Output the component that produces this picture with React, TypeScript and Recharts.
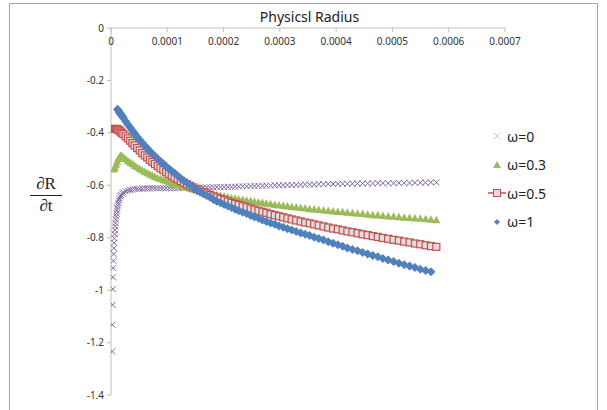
import React from 'react'
import { ScatterChart, Scatter, XAxis, YAxis } from 'recharts'

const xTicks = [0, 0.0001, 0.0002, 0.0003, 0.0004, 0.0005, 0.0006, 0.0007]
const yTicks = [0, -0.2, -0.4, -0.6, -0.8, -1, -1.2, -1.4]
const seriesNames = ['ω=0', 'ω=0.3', 'ω=0.5', 'ω=1']

// physical radius, shared by every curve after its first few points
const radiusGrid = [
  22e-6, 26e-6, 30e-6, 34e-6, 38e-6, 42e-6, 46.5e-6, 51e-6, 55.5e-6, 60e-6,
  64.5e-6, 69e-6, 73.5e-6, 78e-6, 83e-6, 88e-6, 93e-6, 98e-6, 103e-6, 108e-6,
  113e-6, 118.5e-6, 124e-6, 129.5e-6, 135e-6, 140.5e-6, 146e-6, 152e-6, 158e-6, 164e-6,
  170e-6, 176e-6, 182e-6, 188e-6, 194.5e-6, 201e-6, 207.5e-6, 214e-6, 220.5e-6, 227e-6,
  234e-6, 241e-6, 248e-6, 255e-6, 262e-6, 269e-6, 276e-6, 283.5e-6, 291e-6, 298.5e-6,
  306e-6, 313.5e-6, 321e-6, 329e-6, 337e-6, 345e-6, 353e-6, 361e-6, 369e-6, 377.5e-6,
  386e-6, 394.5e-6, 403e-6, 411.5e-6, 420e-6, 429e-6, 438e-6, 447e-6, 456e-6, 465e-6,
  474e-6, 483e-6, 492.5e-6, 502e-6, 511.5e-6, 521e-6, 530.5e-6, 540e-6, 549.5e-6, 559e-6,
  568.5e-6, 578e-6,
]

// ω=0
const w0HeadRadius = [
  2.0e-6, 2.4e-6, 2.8e-6, 3.2e-6, 3.6e-6, 4.0e-6, 4.4e-6, 4.8e-6, 5.2e-6, 5.6e-6,
  6.0e-6, 6.5e-6, 7.0e-6, 7.5e-6, 8.0e-6, 8.6e-6, 9.2e-6, 9.8e-6, 10.5e-6, 11.2e-6,
  12e-6, 13e-6, 14e-6, 15e-6, 16.5e-6, 18e-6, 20e-6,
]
const w0HeadValues = [
  -1.234, -1.132, -1.056, -0.996, -0.951, -0.916, -0.888, -0.862, -0.84, -0.82,
  -0.802, -0.786, -0.771, -0.757, -0.744, -0.731, -0.719, -0.708, -0.697, -0.687,
  -0.677, -0.667, -0.658, -0.651, -0.643, -0.637, -0.631,
]
const w0Values = [
  -0.627, -0.623, -0.62, -0.618, -0.616, -0.615, -0.614, -0.613, -0.613, -0.612,
  -0.612, -0.612, -0.611, -0.611, -0.611, -0.611, -0.611, -0.611, -0.611, -0.611,
  -0.611, -0.61, -0.61, -0.61, -0.61, -0.61, -0.61, -0.61, -0.609, -0.609,
  -0.608, -0.608, -0.608, -0.607, -0.607, -0.607, -0.606, -0.606, -0.605, -0.605,
  -0.604, -0.604, -0.603, -0.603, -0.602, -0.602, -0.601, -0.601, -0.6, -0.6,
  -0.6, -0.599, -0.599, -0.598, -0.598, -0.597, -0.597, -0.597, -0.596, -0.596,
  -0.595, -0.595, -0.595, -0.594, -0.594, -0.594, -0.593, -0.593, -0.593, -0.593,
  -0.592, -0.592, -0.592, -0.592, -0.591, -0.591, -0.591, -0.59, -0.59, -0.59,
  -0.589, -0.589,
]

// ω=0.3
const w03HeadRadius = [5e-6, 7e-6, 9e-6, 11e-6, 13e-6, 15e-6, 17e-6, 19e-6]
const w03HeadValues = [-0.54, -0.533, -0.522, -0.51, -0.5, -0.493, -0.489, -0.488]
const w03Values = [
  -0.494, -0.501, -0.508, -0.514, -0.52, -0.526, -0.532, -0.538, -0.544, -0.549,
  -0.554, -0.559, -0.564, -0.568, -0.573, -0.577, -0.581, -0.585, -0.589, -0.593,
  -0.596, -0.6, -0.603, -0.607, -0.61, -0.613, -0.616, -0.62, -0.623, -0.626,
  -0.629, -0.632, -0.635, -0.638, -0.641, -0.643, -0.646, -0.649, -0.651, -0.654,
  -0.656, -0.659, -0.661, -0.664, -0.666, -0.668, -0.67, -0.672, -0.675, -0.677,
  -0.679, -0.681, -0.683, -0.685, -0.687, -0.689, -0.691, -0.692, -0.694, -0.696,
  -0.698, -0.7, -0.702, -0.703, -0.705, -0.707, -0.709, -0.71, -0.712, -0.714,
  -0.715, -0.717, -0.719, -0.72, -0.722, -0.724, -0.725, -0.727, -0.728, -0.73,
  -0.731, -0.733,
]

// ω=0.5
const w05HeadRadius = [7e-6, 9e-6, 11e-6, 13e-6, 15e-6, 17e-6, 19e-6]
const w05HeadValues = [-0.385, -0.385, -0.386, -0.388, -0.391, -0.395, -0.4]
const w05Values = [
  -0.405, -0.413, -0.421, -0.43, -0.439, -0.448, -0.458, -0.467, -0.477, -0.486,
  -0.494, -0.503, -0.511, -0.519, -0.527, -0.535, -0.542, -0.55, -0.557, -0.564,
  -0.571, -0.577, -0.584, -0.59, -0.596, -0.602, -0.608, -0.614, -0.62, -0.626,
  -0.631, -0.637, -0.642, -0.647, -0.652, -0.657, -0.662, -0.667, -0.671, -0.675,
  -0.68, -0.684, -0.689, -0.693, -0.697, -0.701, -0.705, -0.71, -0.714, -0.718,
  -0.722, -0.726, -0.73, -0.734, -0.738, -0.742, -0.745, -0.749, -0.753, -0.757,
  -0.761, -0.765, -0.768, -0.772, -0.776, -0.779, -0.783, -0.787, -0.79, -0.794,
  -0.797, -0.801, -0.804, -0.808, -0.811, -0.815, -0.818, -0.822, -0.825, -0.829,
  -0.832, -0.835,
]

// ω=1
const w1HeadRadius = [11.5e-6, 13e-6, 14.5e-6, 16e-6, 17.5e-6, 19e-6, 20.5e-6]
const w1HeadValues = [-0.31, -0.315, -0.32, -0.325, -0.329, -0.334, -0.338]
const w1Values = [
  -0.343, -0.356, -0.368, -0.38, -0.391, -0.402, -0.415, -0.427, -0.438, -0.449,
  -0.459, -0.47, -0.48, -0.489, -0.499, -0.509, -0.518, -0.528, -0.537, -0.546,
  -0.554, -0.564, -0.574, -0.583, -0.592, -0.6, -0.608, -0.617, -0.625, -0.632,
  -0.639, -0.646, -0.654, -0.661, -0.667, -0.673, -0.679, -0.685, -0.691, -0.697,
  -0.703, -0.708, -0.715, -0.721, -0.726, -0.732, -0.738, -0.744, -0.749, -0.755,
  -0.76, -0.766, -0.771, -0.776, -0.782, -0.787, -0.792, -0.798, -0.803, -0.809,
  -0.815, -0.821, -0.827, -0.833, -0.839, -0.845, -0.85, -0.856, -0.862, -0.868,
  -0.873, -0.879, -0.885, -0.891, -0.897, -0.903, -0.908, -0.914, -0.92, -0.925,
  -0.93,
]

const toPoints = (headR: number[], headV: number[], vals: number[]) => [
  ...headR.map((r, i) => ({ r, v: headV[i] })),
  ...vals.map((v, i) => ({ r: radiusGrid[i], v })),
]

const w0Data = toPoints(w0HeadRadius, w0HeadValues, w0Values)
const w03Data = toPoints(w03HeadRadius, w03HeadValues, w03Values)
const w05Data = toPoints(w05HeadRadius, w05HeadValues, w05Values)
const w1Data = toPoints(w1HeadRadius, w1HeadValues, w1Values)

const PURPLE = '#8064A2'
const GREEN = '#9BBB59'
const RED = '#C0504D'
const BLUE = '#4F81BD'
const AXIS = '#bfbfbf'
const FONT = '"Noto Sans", sans-serif'

const XMark = (p: any) => {
  const { cx, cy } = p
  return (
    <g>
      <line x1={cx - 3} y1={cy - 3} x2={cx + 3} y2={cy + 3} stroke={PURPLE} strokeWidth={1} />
      <line x1={cx - 3} y1={cy + 3} x2={cx + 3} y2={cy - 3} stroke={PURPLE} strokeWidth={1} />
    </g>
  )
}
const Tri = (p: any) => {
  const { cx, cy } = p
  return <polygon points={`${cx},${cy - 4.5} ${cx + 4},${cy + 3} ${cx - 4},${cy + 3}`} fill={GREEN} />
}
const Sq = (p: any) => {
  const { cx, cy } = p
  return <rect x={cx - 3.5} y={cy - 3.5} width={7} height={7} fill="#e2dede" stroke={RED} strokeWidth={1.2} />
}
const Dia = (p: any) => {
  const { cx, cy } = p
  return <polygon points={`${cx},${cy - 4.5} ${cx + 4.5},${cy} ${cx},${cy + 4.5} ${cx - 4.5},${cy}`} fill={BLUE} />
}

const legendIcons = [
  <g key="a">
    <line x1={6} y1={4} x2={12} y2={10} stroke="#c8c8c8" />
    <line x1={6} y1={10} x2={12} y2={4} stroke="#c8c8c8" />
  </g>,
  <polygon key="b" points="9,3 13,10 5,10" fill={GREEN} />,
  <g key="c">
    <line x1={0} y1={7} x2={18} y2={7} stroke={RED} strokeWidth={1.5} />
    <rect x={5.5} y={3.5} width={7} height={7} fill="#e2dede" stroke={RED} />
  </g>,
  <polygon key="d" points="9,4 12,7 9,10 6,7" fill={BLUE} />,
]

export default function App() {
  return (
    <div style={{ position: 'absolute', left: 0, top: 0, width: 607, height: 410, background: '#fff', overflow: 'hidden' }}>
      <div style={{ position: 'absolute', left: 9, top: 3, width: 587, height: 430, border: '1px solid #a6a6a6' }} />
      <div style={{ position: 'absolute', left: 0, width: 607, top: 7, textAlign: 'center', fontFamily: FONT, fontSize: 14, color: '#222', paddingLeft: 12, boxSizing: 'border-box' }}>
        Physicsl Radius
      </div>
      <div style={{ position: 'absolute', left: 30, top: 174, width: 32, textAlign: 'center', fontFamily: '"Liberation Serif", serif', fontSize: 17, color: '#222', lineHeight: '20px' }}>
        <div style={{ borderBottom: '1px solid #222', paddingBottom: 1 }}>∂R</div>
        <div>∂t</div>
      </div>
      <div style={{ position: 'absolute', left: 0, top: 0 }}>
        <ScatterChart width={607} height={410} margin={{ top: 28, right: 102, bottom: 15, left: 51 }}>
          <XAxis
            type="number"
            dataKey="r"
            orientation="top"
            mirror
            height={1}
            domain={[0, 0.0007]}
            ticks={xTicks}
            interval={0}
            allowDataOverflow
            stroke={AXIS}
            tickSize={4}
            tickMargin={6}
            tick={{ fill: '#333', fontSize: 10, fontFamily: FONT }}
          />
          <YAxis
            type="number"
            dataKey="v"
            width={60}
            domain={[-1.4, 0]}
            ticks={yTicks}
            interval={0}
            allowDataOverflow
            stroke={AXIS}
            tickSize={4}
            tickMargin={3}
            tick={{ fill: '#333', fontSize: 10, fontFamily: FONT }}
          />
          <Scatter name={seriesNames[0]} data={w0Data} shape={XMark} isAnimationActive={false} />
          <Scatter name={seriesNames[1]} data={w03Data} shape={Tri} isAnimationActive={false} />
          <Scatter name={seriesNames[2]} data={w05Data} shape={Sq} isAnimationActive={false} />
          <Scatter name={seriesNames[3]} data={w1Data} shape={Dia} isAnimationActive={false} />
        </ScatterChart>
      </div>
      <div style={{ position: 'absolute', left: 488, top: 122, fontFamily: FONT, fontSize: 14, color: '#222' }}>
        {seriesNames.map((n, i) => (
          <div key={n} style={{ display: 'flex', alignItems: 'center', height: 28.5 }}>
            <svg width={18} height={14} style={{ marginRight: 1 }}>{legendIcons[i]}</svg>
            <span>{n}</span>
          </div>
        ))}
      </div>
    </div>
  )
}
